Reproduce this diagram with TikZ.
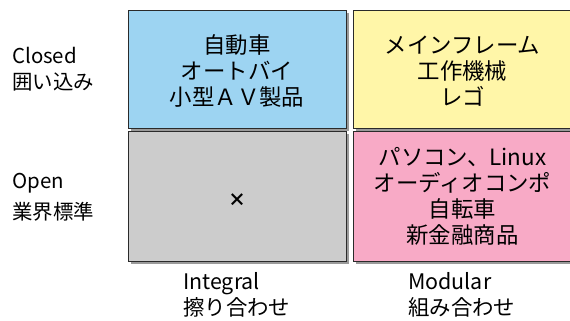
\documentclass[tikz,border=0pt]{standalone}
\usepackage{fontspec}
\setmainfont{Noto Sans CJK JP}
\definecolor{cblue}{HTML}{9DD4F2}
\definecolor{cyellow}{HTML}{FFF6A8}
\definecolor{cgray}{HTML}{CCCCCC}
\definecolor{cpink}{HTML}{F8AAC6}
\definecolor{cshadow}{HTML}{9A9A9A}
\definecolor{cedge}{HTML}{2A2A2A}
\tikzset{
  quad/.style={draw=cedge, line width=1bp},
  shadowbox/.style={fill=cshadow, draw=none},
  boxtext/.style={font=\fontsize{22.5}{26}\selectfont, align=center, inner sep=0pt},
  axislabel/.style={font=\fontsize{20.5}{26}\selectfont, anchor=base west, inner sep=0pt},
  bottomlabel/.style={font=\fontsize{21.5}{26}\selectfont, anchor=base west, inner sep=0pt},
}
\begin{document}
\begin{tikzpicture}[x=1bp, y=-1bp]
\useasboundingbox (0,0) rectangle (570,320);
% shadows
\fill[shadowbox] (131,13) rectangle (349,131);
\fill[shadowbox] (356,13) rectangle (575,131);
\fill[shadowbox] (131,134) rectangle (349,264);
\fill[shadowbox] (356,134) rectangle (575,264);
% boxes
\draw[quad, fill=cblue] (128,10) rectangle (346,128);
\draw[quad, fill=cyellow] (353,10) rectangle (572,128);
\draw[quad, fill=cgray] (128,131) rectangle (346,261);
\draw[quad, fill=cpink] (353,131) rectangle (572,261);
% box texts
\node[boxtext] (tl) at (237,71) {自動車\\オートバイ\\小型ＡＶ製品};
\node[boxtext] (tr) at (462.5,71) {メインフレーム\\工作機械\\レゴ};
\node[boxtext, font=\fontsize{18}{20}\selectfont\bfseries] (bl) at (237,200) {×};
\node[boxtext] (br) at (462.5,196) {パソコン、Linux\\オーディオコンポ\\自転車\\新金融商品};
% axis labels
\node[axislabel] (closed) at (12,63) {Closed};
\node[axislabel] (closedj) at (12,89) {囲い込み};
\node[axislabel] (open) at (12,188) {Open};
\node[axislabel] (openj) at (12,219) {業界標準};
\node[bottomlabel] (integral) at (183,289) {Integral};
\node[bottomlabel] (integralj) at (183,315) {擦り合わせ};
\node[bottomlabel] (modular) at (408,289) {Modular};
\node[bottomlabel] (modularj) at (408,315) {組み合わせ};
\end{tikzpicture}
\end{document}
